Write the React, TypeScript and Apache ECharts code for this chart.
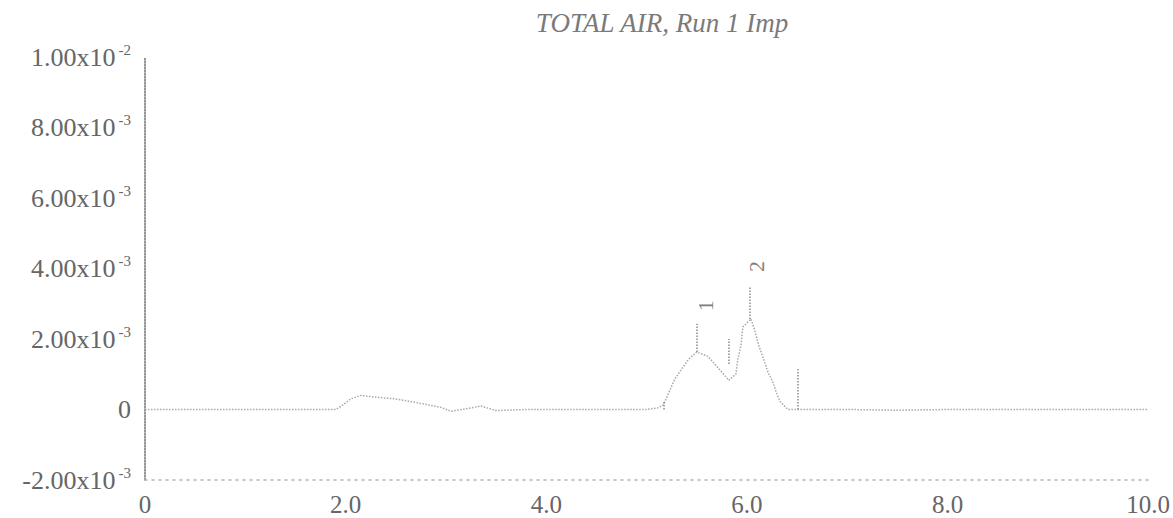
import React, { useEffect, useRef } from "react";
import * as echarts from "echarts";

const chartTitle = "TOTAL AIR, Run 1 Imp";

// retention time (min) and response
const times = [0, 0.5, 1.0, 1.5, 1.9, 1.96, 2.05, 2.15, 2.3, 2.5, 2.7, 2.95, 3.05, 3.2, 3.35, 3.5, 3.8, 4.2, 4.6, 5.0, 5.12, 5.17, 5.28, 5.42, 5.5, 5.61, 5.68, 5.75, 5.82, 5.89, 5.91, 5.94, 5.96, 6.04, 6.08, 6.12, 6.16, 6.21, 6.26, 6.3, 6.33, 6.41, 6.6, 7.0, 7.5, 8.0, 8.5, 9.0, 9.5, 10.0];
const values = [0, 0, 0, 0, 0, 0.0001, 0.0003, 0.0004, 0.00035, 0.0003, 0.0002, 0.00006, -0.00005, 0.00002, 0.0001, -0.00003, 0, 0, 0, 0, 0.00005, 0.00014, 0.00086, 0.00143, 0.00163, 0.00151, 0.00129, 0.00106, 0.00083, 0.001, 0.00143, 0.0018, 0.00234, 0.00257, 0.00223, 0.0018, 0.00149, 0.00106, 0.00077, 0.00043, 0.00023, 0, 0, 0, -0.00002, 0, 0, 0, 0, 0];

// peak apex markers
const peakNames = ["1", "2"];
const peakTimes = [5.5, 6.03];
const peakLineLow = [0.00163, 0.00257];
const peakLineHigh = [0.00243, 0.00349];
const peakLabelTimes = [5.59, 6.1];
const peakLabelValues = [0.00294, 0.00406];

// peak boundary markers
const boundTimes = [5.17, 5.82, 6.51];
const boundLow = [0, 0.00129, 0];
const boundHigh = [0.00025, 0.002, 0.00114];

// axis ticks
const xTicks = [0, 2, 4, 6, 8, 10];
const xTickLabels = ["0", "2.0", "4.0", "6.0", "8.0", "10.0"];
const yTicks = [-0.002, 0, 0.002, 0.004, 0.006, 0.008, 0.01];
const yTickMantissa = ["-2.00x10", "0", "2.00x10", "4.00x10", "6.00x10", "8.00x10", "1.00x10"];
const yTickExponent = ["-3", "", "-3", "-3", "-3", "-3", "-2"];

const FONT = "'Liberation Serif', 'DejaVu Serif', serif";

export default function App() {
  const ref = useRef<HTMLDivElement>(null);
  useEffect(() => {
    if (!ref.current) return;
    const chart = echarts.init(ref.current, undefined, { renderer: "svg" });
    const lineData = times.map((t, i) => [t, values[i]]);
    const markData: any[] = [];
    peakTimes.forEach((t, i) => {
      markData.push([{ coord: [t, peakLineLow[i]] }, { coord: [t, peakLineHigh[i]] }]);
    });
    boundTimes.forEach((t, i) => {
      markData.push([{ coord: [t, boundLow[i]] }, { coord: [t, boundHigh[i]] }]);
    });
    chart.setOption({
      animation: false,
      backgroundColor: "#ffffff",
      title: {
        text: chartTitle,
        left: 657,
        textAlign: "center",
        top: 4,
        textStyle: {
          fontFamily: FONT,
          fontStyle: "italic",
          fontWeight: "normal",
          fontSize: 27,
          color: "#7a7a7a",
        },
      },
      grid: { left: 145, right: 16, top: 57, bottom: 38 },
      xAxis: {
        type: "value",
        min: 0,
        max: 10,
        interval: 2,
        axisLine: { show: true, onZero: false, lineStyle: { color: "#b4b4b4", type: [2, 5], width: 1.5 } },
        axisTick: { show: false },
        splitLine: { show: false },
        axisLabel: {
          margin: 12,
          fontFamily: FONT,
          fontSize: 25,
          color: "#666666",
          formatter: (v: number) => {
            const i = xTicks.findIndex((t) => Math.abs(t - v) < 1e-9);
            return i >= 0 ? xTickLabels[i] : "";
          },
        },
      },
      yAxis: {
        type: "value",
        min: -0.002,
        max: 0.01,
        interval: 0.002,
        axisLine: { show: true, lineStyle: { color: "#707070", type: "dotted", width: 1.5 } },
        axisTick: { show: false },
        splitLine: { show: false },
        axisLabel: {
          margin: 14,
          color: "#666666",
          formatter: (v: number) => {
            const i = yTicks.findIndex((t) => Math.abs(t - v) < 1e-9);
            if (i < 0) return "";
            return yTickExponent[i]
              ? `{m|${yTickMantissa[i]}}{e|${yTickExponent[i]}}`
              : `{m|${yTickMantissa[i]}}`;
          },
          rich: {
            m: { fontFamily: FONT, fontSize: 26, color: "#666666", lineHeight: 30 },
            e: { fontFamily: FONT, fontSize: 15, color: "#666666", lineHeight: 30, verticalAlign: "top", padding: [0, 0, 0, 3] },
          },
        },
      },
      series: [
        {
          type: "line",
          data: lineData,
          showSymbol: false,
          symbol: "none",
          lineStyle: { color: "#a8a8a8", width: 1.5, type: "dotted" },
          markLine: {
            silent: true,
            symbol: ["none", "none"],
            label: { show: false },
            lineStyle: { color: "#8a8a8a", type: "dotted", width: 1.5 },
            data: markData,
          },
        },
        {
          type: "scatter",
          symbolSize: 0,
          data: peakLabelTimes.map((t, i) => ({ value: [t, peakLabelValues[i]], name: peakNames[i] })),
          label: {
            show: true,
            position: "inside",
            rotate: 90,
            formatter: (p: any) => p.name,
            fontFamily: FONT,
            fontSize: 22,
            color: "#5a5a5a",
          },
        },
      ],
    });
    return () => chart.dispose();
  }, []);
  return (
    <div
      ref={ref}
      style={{ position: "absolute", left: 0, top: 0, width: 1173, height: 518 }}
    />
  );
}
